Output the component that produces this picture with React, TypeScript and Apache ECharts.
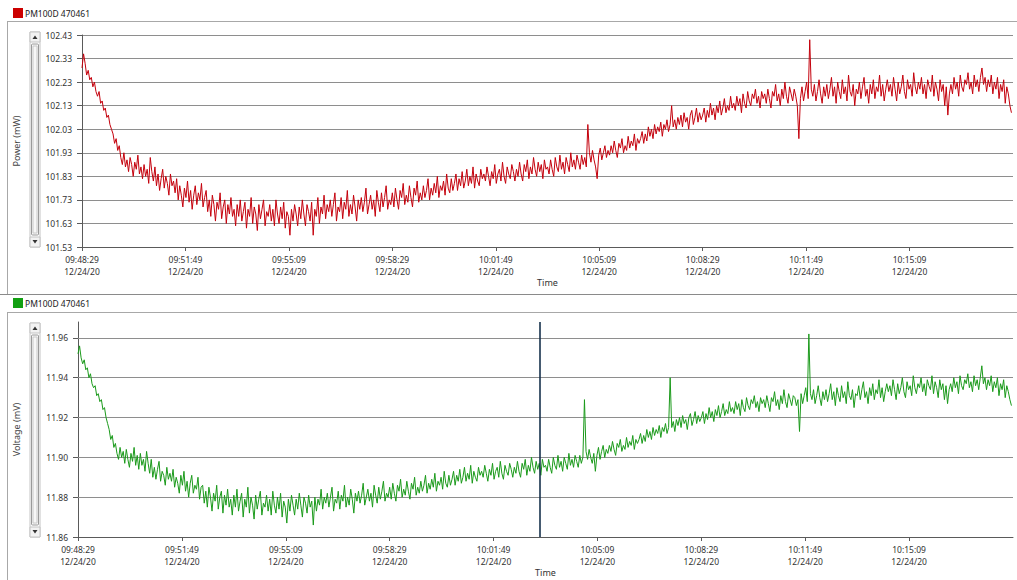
import React, { useEffect, useRef } from "react";
import * as echarts from "echarts";

const tickTimes = ["09:48:29", "09:51:49", "09:55:09", "09:58:29", "10:01:49", "10:05:09", "10:08:29", "10:11:49", "10:15:09"];
const tickDate = "12/24/20";
const tickStepSec = 200;
const sampleStepSec = 3;
const axisMaxSec = 1800;
const cursorSec = 888;
const deviceName = "PM100D 470461";

const powerTicks = ["101.53", "101.63", "101.73", "101.83", "101.93", "102.03", "102.13", "102.23", "102.33", "102.43"];
const voltageTicks = [11.86, 11.88, 11.9, 11.92, 11.94, 11.96];

const power = [
  102.29, 102.35, 102.31, 102.26, 102.28, 102.24, 102.25, 102.21, 102.23, 102.19, 102.17, 102.19, 102.14, 102.15, 102.11, 102.12, 102.08, 102.09, 102.05, 102.03,
  102.01, 101.97, 101.99, 101.94, 101.96, 101.91, 101.88, 101.93, 101.87, 101.90, 101.85, 101.91, 101.88, 101.83, 101.89, 101.86, 101.92, 101.84, 101.87, 101.82,
  101.88, 101.83, 101.86, 101.80, 101.91, 101.85, 101.81, 101.87, 101.79, 101.84, 101.77, 101.82, 101.86, 101.78, 101.83, 101.80, 101.75, 101.84, 101.79, 101.81,
  101.76, 101.82, 101.73, 101.79, 101.75, 101.70, 101.78, 101.74, 101.81, 101.72, 101.77, 101.69, 101.75, 101.79, 101.71, 101.76, 101.73, 101.80, 101.70, 101.74,
  101.77, 101.68, 101.73, 101.66, 101.75, 101.71, 101.64, 101.72, 101.69, 101.76, 101.65, 101.70, 101.73, 101.63, 101.71, 101.67, 101.74, 101.66, 101.69, 101.62,
  101.71, 101.66, 101.73, 101.64, 101.68, 101.72, 101.61, 101.69, 101.66, 101.74, 101.63, 101.70, 101.67, 101.60, 101.71, 101.65, 101.69, 101.73, 101.62, 101.68,
  101.66, 101.71, 101.64, 101.69, 101.62, 101.73, 101.67, 101.63, 101.70, 101.65, 101.72, 101.61, 101.68, 101.66, 101.58, 101.69, 101.64, 101.71, 101.67, 101.62,
  101.70, 101.65, 101.73, 101.67, 101.62, 101.71, 101.68, 101.64, 101.72, 101.58, 101.69, 101.66, 101.74, 101.63, 101.70, 101.67, 101.75, 101.65, 101.71, 101.68,
  101.73, 101.66, 101.71, 101.76, 101.64, 101.70, 101.68, 101.74, 101.65, 101.72, 101.69, 101.77, 101.66, 101.71, 101.67, 101.75, 101.70, 101.64, 101.73, 101.69,
  101.74, 101.68, 101.72, 101.78, 101.67, 101.71, 101.75, 101.69, 101.73, 101.66, 101.77, 101.72, 101.68, 101.76, 101.70, 101.74, 101.79, 101.69, 101.73, 101.71,
  101.76, 101.70, 101.78, 101.73, 101.69, 101.77, 101.74, 101.80, 101.71, 101.75, 101.72, 101.79, 101.74, 101.70, 101.78, 101.75, 101.81, 101.72, 101.76, 101.73,
  101.79, 101.74, 101.77, 101.82, 101.73, 101.78, 101.75, 101.80, 101.76, 101.83, 101.74, 101.79, 101.77, 101.81, 101.75, 101.84, 101.78, 101.76, 101.82, 101.77,
  101.80, 101.84, 101.77, 101.82, 101.79, 101.85, 101.78, 101.81, 101.86, 101.79, 101.83, 101.80, 101.87, 101.78, 101.84, 101.81, 101.79, 101.86, 101.82, 101.84,
  101.81, 101.87, 101.83, 101.79, 101.85, 101.82, 101.88, 101.80, 101.84, 101.86, 101.81, 101.89, 101.83, 101.80, 101.87, 101.84, 101.82, 101.88, 101.85, 101.81,
  101.86, 101.83, 101.89, 101.84, 101.81, 101.88, 101.85, 101.90, 101.82, 101.87, 101.84, 101.91, 101.86, 101.83, 101.89, 101.85, 101.88, 101.82, 101.90, 101.86,
  101.87, 101.84, 101.90, 101.86, 101.83, 101.91, 101.87, 101.85, 101.92, 101.86, 101.89, 101.84, 101.91, 101.88, 101.85, 101.93, 101.87, 101.90, 101.86, 101.92,
  101.89, 101.86, 101.92, 101.88, 101.91, 101.87, 102.05, 101.93, 101.89, 101.94, 101.90, 101.87, 101.82, 101.92, 101.95, 101.90, 101.93, 101.96, 101.91, 101.94,
  101.92, 101.96, 101.93, 101.98, 101.94, 101.91, 101.97, 101.95, 101.99, 101.93, 101.96, 101.94, 102.00, 101.95, 101.98, 101.96, 102.01, 101.94, 101.99, 101.97,
  101.99, 102.02, 101.97, 102.01, 101.98, 102.04, 102.00, 102.03, 101.99, 102.05, 102.01, 102.04, 102.02, 102.06, 102.00, 102.05, 102.03, 102.07, 102.02, 102.05,
  102.13, 102.04, 102.07, 102.03, 102.08, 102.05, 102.09, 102.04, 102.10, 102.06, 102.08, 102.03, 102.09, 102.11, 102.05, 102.08, 102.12, 102.06, 102.10, 102.07,
  102.09, 102.12, 102.06, 102.11, 102.08, 102.14, 102.09, 102.12, 102.07, 102.13, 102.10, 102.15, 102.09, 102.12, 102.16, 102.10, 102.13, 102.11, 102.17, 102.12,
  102.14, 102.11, 102.17, 102.13, 102.16, 102.10, 102.18, 102.14, 102.12, 102.19, 102.15, 102.13, 102.18, 102.16, 102.20, 102.14, 102.17, 102.12, 102.19, 102.16,
  102.18, 102.14, 102.20, 102.16, 102.12, 102.19, 102.17, 102.22, 102.15, 102.18, 102.13, 102.20, 102.16, 102.23, 102.17, 102.14, 102.21, 102.18, 102.15, 102.20,
  102.17, 102.13, 101.99, 102.16, 102.21, 102.15, 102.19, 102.23, 102.16, 102.41, 102.20, 102.17, 102.22, 102.15, 102.19, 102.24, 102.18, 102.14, 102.21, 102.17,
  102.22, 102.16, 102.20, 102.25, 102.17, 102.21, 102.14, 102.23, 102.19, 102.16, 102.24, 102.18, 102.21, 102.15, 102.26, 102.19, 102.17, 102.22, 102.13, 102.20,
  102.18, 102.23, 102.16, 102.21, 102.25, 102.17, 102.20, 102.14, 102.22, 102.18, 102.24, 102.16, 102.21, 102.19, 102.26, 102.17, 102.22, 102.15, 102.20, 102.24,
  102.19, 102.22, 102.17, 102.25, 102.20, 102.15, 102.23, 102.18, 102.21, 102.26, 102.19, 102.16, 102.24, 102.20, 102.22, 102.17, 102.27, 102.21, 102.18, 102.23,
  102.20, 102.25, 102.18, 102.22, 102.16, 102.24, 102.21, 102.19, 102.26, 102.17, 102.23, 102.20, 102.15, 102.24, 102.19, 102.22, 102.13, 102.21, 102.09, 102.18,
  102.22, 102.18, 102.25, 102.20, 102.23, 102.17, 102.26, 102.21, 102.19, 102.24, 102.22, 102.27, 102.20, 102.23, 102.18, 102.26, 102.21, 102.24, 102.19, 102.25,
  102.29, 102.22, 102.25, 102.19, 102.24, 102.21, 102.26, 102.18, 102.23, 102.20, 102.25, 102.16, 102.22, 102.19, 102.24, 102.14, 102.21, 102.18, 102.13, 102.10,
];

const voltage = [
  11.952, 11.956, 11.950, 11.947, 11.949, 11.944, 11.945, 11.940, 11.942, 11.937, 11.935, 11.936, 11.931, 11.932, 11.928, 11.929, 11.924, 11.925, 11.920, 11.917,
  11.914, 11.909, 11.911, 11.905, 11.907, 11.902, 11.899, 11.905, 11.900, 11.903, 11.897, 11.904, 11.899, 11.895, 11.902, 11.898, 11.905, 11.896, 11.901, 11.894,
  11.902, 11.896, 11.899, 11.893, 11.903, 11.897, 11.892, 11.899, 11.890, 11.895, 11.889, 11.894, 11.898, 11.888, 11.893, 11.891, 11.886, 11.895, 11.889, 11.892,
  11.888, 11.894, 11.885, 11.890, 11.887, 11.882, 11.891, 11.886, 11.893, 11.883, 11.888, 11.880, 11.887, 11.891, 11.882, 11.886, 11.884, 11.890, 11.879, 11.885,
  11.886, 11.877, 11.883, 11.875, 11.885, 11.880, 11.873, 11.882, 11.878, 11.886, 11.874, 11.880, 11.883, 11.872, 11.881, 11.876, 11.884, 11.875, 11.879, 11.871,
  11.881, 11.875, 11.884, 11.873, 11.878, 11.882, 11.870, 11.879, 11.875, 11.885, 11.872, 11.880, 11.876, 11.869, 11.881, 11.874, 11.879, 11.883, 11.871, 11.877,
  11.875, 11.881, 11.873, 11.879, 11.871, 11.883, 11.876, 11.872, 11.880, 11.874, 11.882, 11.870, 11.878, 11.875, 11.867, 11.879, 11.873, 11.881, 11.876, 11.871,
  11.879, 11.874, 11.882, 11.876, 11.870, 11.880, 11.877, 11.872, 11.881, 11.875, 11.878, 11.866, 11.880, 11.873, 11.879, 11.876, 11.884, 11.874, 11.880, 11.877,
  11.882, 11.875, 11.880, 11.885, 11.873, 11.879, 11.877, 11.883, 11.874, 11.881, 11.878, 11.886, 11.875, 11.880, 11.876, 11.884, 11.879, 11.872, 11.882, 11.878,
  11.883, 11.877, 11.881, 11.887, 11.876, 11.880, 11.884, 11.878, 11.882, 11.875, 11.886, 11.881, 11.877, 11.885, 11.879, 11.883, 11.888, 11.878, 11.882, 11.880,
  11.885, 11.879, 11.887, 11.882, 11.878, 11.886, 11.883, 11.889, 11.880, 11.884, 11.881, 11.888, 11.883, 11.879, 11.887, 11.884, 11.890, 11.881, 11.885, 11.882,
  11.888, 11.883, 11.886, 11.891, 11.882, 11.887, 11.884, 11.889, 11.885, 11.892, 11.883, 11.888, 11.886, 11.890, 11.884, 11.893, 11.887, 11.885, 11.891, 11.886,
  11.889, 11.893, 11.886, 11.891, 11.888, 11.894, 11.887, 11.890, 11.895, 11.888, 11.892, 11.889, 11.896, 11.887, 11.893, 11.890, 11.888, 11.895, 11.891, 11.893,
  11.890, 11.896, 11.892, 11.888, 11.894, 11.891, 11.897, 11.889, 11.893, 11.895, 11.890, 11.898, 11.892, 11.889, 11.896, 11.893, 11.891, 11.897, 11.894, 11.890,
  11.895, 11.892, 11.898, 11.893, 11.890, 11.897, 11.894, 11.899, 11.891, 11.896, 11.893, 11.900, 11.895, 11.892, 11.898, 11.894, 11.897, 11.891, 11.899, 11.895,
  11.896, 11.893, 11.899, 11.895, 11.892, 11.900, 11.896, 11.894, 11.901, 11.895, 11.898, 11.893, 11.900, 11.897, 11.894, 11.902, 11.896, 11.899, 11.895, 11.901,
  11.898, 11.895, 11.901, 11.897, 11.900, 11.929, 11.903, 11.899, 11.904, 11.900, 11.897, 11.902, 11.893, 11.901, 11.905, 11.899, 11.903, 11.906, 11.900, 11.904,
  11.902, 11.906, 11.903, 11.908, 11.904, 11.901, 11.907, 11.905, 11.909, 11.903, 11.906, 11.904, 11.910, 11.905, 11.908, 11.906, 11.911, 11.904, 11.909, 11.907,
  11.909, 11.912, 11.907, 11.911, 11.908, 11.914, 11.910, 11.913, 11.909, 11.915, 11.911, 11.914, 11.912, 11.916, 11.910, 11.915, 11.913, 11.917, 11.912, 11.915,
  11.940, 11.915, 11.918, 11.913, 11.919, 11.916, 11.920, 11.915, 11.921, 11.917, 11.919, 11.914, 11.920, 11.922, 11.916, 11.919, 11.923, 11.917, 11.921, 11.918,
  11.920, 11.923, 11.917, 11.922, 11.919, 11.925, 11.920, 11.923, 11.918, 11.924, 11.921, 11.926, 11.920, 11.923, 11.927, 11.921, 11.924, 11.922, 11.928, 11.923,
  11.925, 11.922, 11.928, 11.924, 11.927, 11.921, 11.929, 11.925, 11.923, 11.930, 11.926, 11.924, 11.929, 11.927, 11.931, 11.925, 11.928, 11.923, 11.930, 11.927,
  11.929, 11.925, 11.931, 11.927, 11.923, 11.930, 11.928, 11.933, 11.926, 11.929, 11.924, 11.931, 11.927, 11.934, 11.928, 11.925, 11.932, 11.929, 11.926, 11.931,
  11.930, 11.926, 11.929, 11.913, 11.932, 11.927, 11.931, 11.935, 11.928, 11.962, 11.932, 11.929, 11.934, 11.927, 11.931, 11.936, 11.930, 11.926, 11.933, 11.929,
  11.934, 11.928, 11.932, 11.937, 11.929, 11.933, 11.926, 11.935, 11.931, 11.928, 11.936, 11.930, 11.933, 11.927, 11.938, 11.931, 11.929, 11.934, 11.925, 11.932,
  11.931, 11.936, 11.929, 11.934, 11.938, 11.930, 11.933, 11.927, 11.935, 11.931, 11.937, 11.929, 11.934, 11.932, 11.939, 11.930, 11.935, 11.928, 11.933, 11.937,
  11.933, 11.936, 11.931, 11.939, 11.934, 11.929, 11.937, 11.932, 11.935, 11.940, 11.933, 11.930, 11.938, 11.934, 11.936, 11.931, 11.941, 11.935, 11.932, 11.937,
  11.935, 11.940, 11.933, 11.937, 11.931, 11.939, 11.936, 11.934, 11.941, 11.932, 11.938, 11.935, 11.930, 11.939, 11.934, 11.937, 11.929, 11.936, 11.927, 11.934,
  11.937, 11.933, 11.940, 11.935, 11.938, 11.932, 11.941, 11.936, 11.934, 11.939, 11.937, 11.942, 11.935, 11.938, 11.933, 11.941, 11.936, 11.939, 11.934, 11.940,
  11.946, 11.937, 11.940, 11.934, 11.939, 11.936, 11.941, 11.933, 11.938, 11.935, 11.940, 11.931, 11.937, 11.934, 11.939, 11.930, 11.936, 11.933, 11.929, 11.926,
];

const FONT = "'Noto Sans', 'Open Sans', sans-serif";
const LABEL_SIZE = 8.5;
const RED = "#c4000c";
const GREEN = "#1b9a1b";
const AXIS = "#5a5a5a";
const GRIDC = "#8e8e8e";
const FRAME = "#a8a8a8";

function xLabelFormatter(v: number) {
  const k = Math.round(v / tickStepSec);
  if (Math.abs(v - k * tickStepSec) > 0.5 || k >= tickTimes.length) return "";
  return tickTimes[k] + "\n" + tickDate;
}

function makeXAxis(gridIndex: number) {
  return {
    gridIndex,
    type: "value",
    min: 0,
    max: axisMaxSec,
    interval: tickStepSec,
    name: "Time",
    nameLocation: "middle",
    nameGap: 31,
    nameTextStyle: { fontFamily: FONT, fontSize: 9, color: "#333" },
    axisLine: { show: true, lineStyle: { color: AXIS, width: 1 } },
    axisTick: { show: true, length: 4, lineStyle: { color: AXIS } },
    splitLine: { show: false },
    axisLabel: {
      fontFamily: FONT,
      fontSize: LABEL_SIZE,
      color: "#333",
      lineHeight: 11.5,
      margin: 7,
      showMaxLabel: false,
      formatter: xLabelFormatter,
    },
  };
}

function scrollBar(top: number, bottom: number) {
  const x = 30;
  const w = 10;
  return [
    { type: "rect", shape: { x, y: top, width: w, height: bottom - top }, style: { fill: "#ffffff", stroke: "#c4c4c4", lineWidth: 1 } },
    { type: "rect", shape: { x, y: top, width: w, height: 10 }, style: { fill: "#f2f2f2", stroke: "#c4c4c4", lineWidth: 1 } },
    { type: "polygon", shape: { points: [[x + 2.5, top + 7], [x + 7.5, top + 7], [x + 5, top + 3.5]] }, style: { fill: "#333" } },
    { type: "rect", shape: { x, y: bottom - 10, width: w, height: 10 }, style: { fill: "#f2f2f2", stroke: "#c4c4c4", lineWidth: 1 } },
    { type: "polygon", shape: { points: [[x + 2.5, bottom - 7], [x + 7.5, bottom - 7], [x + 5, bottom - 3.5]] }, style: { fill: "#333" } },
    { type: "rect", shape: { x: x + 1.5, y: top + 12, width: w - 3, height: bottom - top - 24, r: 1 }, style: { fill: "#f7f7f7", stroke: "#9a9a9a", lineWidth: 1 } },
    { type: "rect", shape: { x: x + 3, y: top + 14, width: w - 6, height: bottom - top - 28 }, style: { fill: "none", stroke: "#c8c8c8", lineWidth: 1 } },
  ];
}

function header(y: number, color: string) {
  return [
    { type: "rect", shape: { x: 13, y: y, width: 10, height: 10 }, style: { fill: color } },
    { type: "text", x: 25, y: y + 5, style: { text: deviceName, fontFamily: FONT, fontSize: LABEL_SIZE, fill: "#222", verticalAlign: "middle" } },
  ];
}

export default function App() {
  const ref = useRef<HTMLDivElement>(null);
  useEffect(() => {
    if (!ref.current) return;
    const chart = echarts.init(ref.current, null, { renderer: "svg" });
    const powerData = power.map((v, i) => [i * sampleStepSec, v]);
    const voltageData = voltage.map((v, i) => [i * sampleStepSec, v]);
    const option: any = {
      animation: false,
      backgroundColor: "#ffffff",
      textStyle: { fontFamily: FONT },
      grid: [
        { left: 82, right: 4, top: 35, height: 212, containLabel: false },
        { left: 78, right: 4, top: 322, height: 215, containLabel: false },
      ],
      xAxis: [makeXAxis(0), makeXAxis(1)],
      yAxis: [
        {
          gridIndex: 0,
          type: "category",
          data: powerTicks,
          boundaryGap: false,
          name: "Power (mW)",
          nameLocation: "middle",
          nameGap: 61,
          nameTextStyle: { fontFamily: FONT, fontSize: 9, color: "#444" },
          axisLine: { show: true, lineStyle: { color: AXIS } },
          axisTick: { show: true, length: 5, interval: 0, lineStyle: { color: AXIS } },
          axisLabel: { interval: 0, margin: 10, fontFamily: FONT, fontSize: LABEL_SIZE, color: "#333" },
          splitLine: { show: true, interval: 0, lineStyle: { color: GRIDC, width: 1 } },
        },
        {
          gridIndex: 0,
          type: "value",
          min: Number(powerTicks[0]),
          max: Number(powerTicks[powerTicks.length - 1]),
          show: false,
          splitLine: { show: false },
        },
        {
          gridIndex: 1,
          type: "value",
          min: 11.86,
          max: 11.968,
          interval: 0.02,
          name: "Voltage (mV)",
          nameLocation: "middle",
          nameGap: 57,
          nameTextStyle: { fontFamily: FONT, fontSize: 9, color: "#444" },
          axisLine: { show: true, lineStyle: { color: AXIS } },
          axisTick: { show: true, length: 5, lineStyle: { color: AXIS } },
          axisLabel: {
            margin: 10,
            fontFamily: FONT,
            fontSize: LABEL_SIZE,
            color: "#333",
            showMaxLabel: false,
            formatter: (v: number) => (v > voltageTicks[voltageTicks.length - 1] + 0.001 ? "" : v.toFixed(2)),
          },
          splitLine: { show: false },
        },
      ],
      series: [
        {
          type: "line",
          xAxisIndex: 0,
          yAxisIndex: 1,
          data: powerData,
          showSymbol: false,
          symbol: "none",
          silent: true,
          lineStyle: { color: RED, width: 1 },
          z: 3,
        },
        {
          type: "line",
          xAxisIndex: 1,
          yAxisIndex: 2,
          data: [],
          silent: true,
          z: 1,
          markLine: {
            silent: true,
            symbol: "none",
            z: 1,
            label: { show: false },
            lineStyle: { color: GRIDC, width: 1, type: "solid" },
            data: voltageTicks.slice(1).map((v) => ({ yAxis: v })),
          },
        },
        {
          type: "line",
          xAxisIndex: 1,
          yAxisIndex: 2,
          data: voltageData,
          showSymbol: false,
          symbol: "none",
          silent: true,
          lineStyle: { color: GREEN, width: 1 },
          z: 3,
          markLine: {
            silent: true,
            symbol: "none",
            z: 6,
            label: { show: false },
            lineStyle: { color: "#17324d", width: 1.6, type: "solid" },
            data: [{ xAxis: cursorSec }],
          },
        },
      ],
      graphic: [
        { type: "line", shape: { x1: 7, y1: 21.5, x2: 1017, y2: 21.5 }, style: { stroke: FRAME, lineWidth: 1 } },
        { type: "line", shape: { x1: 7.5, y1: 21, x2: 7.5, y2: 294 }, style: { stroke: FRAME, lineWidth: 1 } },
        { type: "line", shape: { x1: 0, y1: 294.5, x2: 1017, y2: 294.5 }, style: { stroke: "#8a8a8a", lineWidth: 1 } },
        { type: "line", shape: { x1: 7, y1: 312.5, x2: 1017, y2: 312.5 }, style: { stroke: FRAME, lineWidth: 1 } },
        { type: "line", shape: { x1: 7.5, y1: 312, x2: 7.5, y2: 580 }, style: { stroke: FRAME, lineWidth: 1 } },
        ...header(8, "#cc0000"),
        ...header(298, "#12a012"),
        ...scrollBar(32, 247),
        ...scrollBar(323, 537),
      ],
    };
    chart.setOption(option);
    return () => chart.dispose();
  }, []);
  return (
    <div
      ref={ref}
      style={{ position: "absolute", left: 0, top: 0, width: 1017, height: 580, background: "#fff" }}
    />
  );
}
